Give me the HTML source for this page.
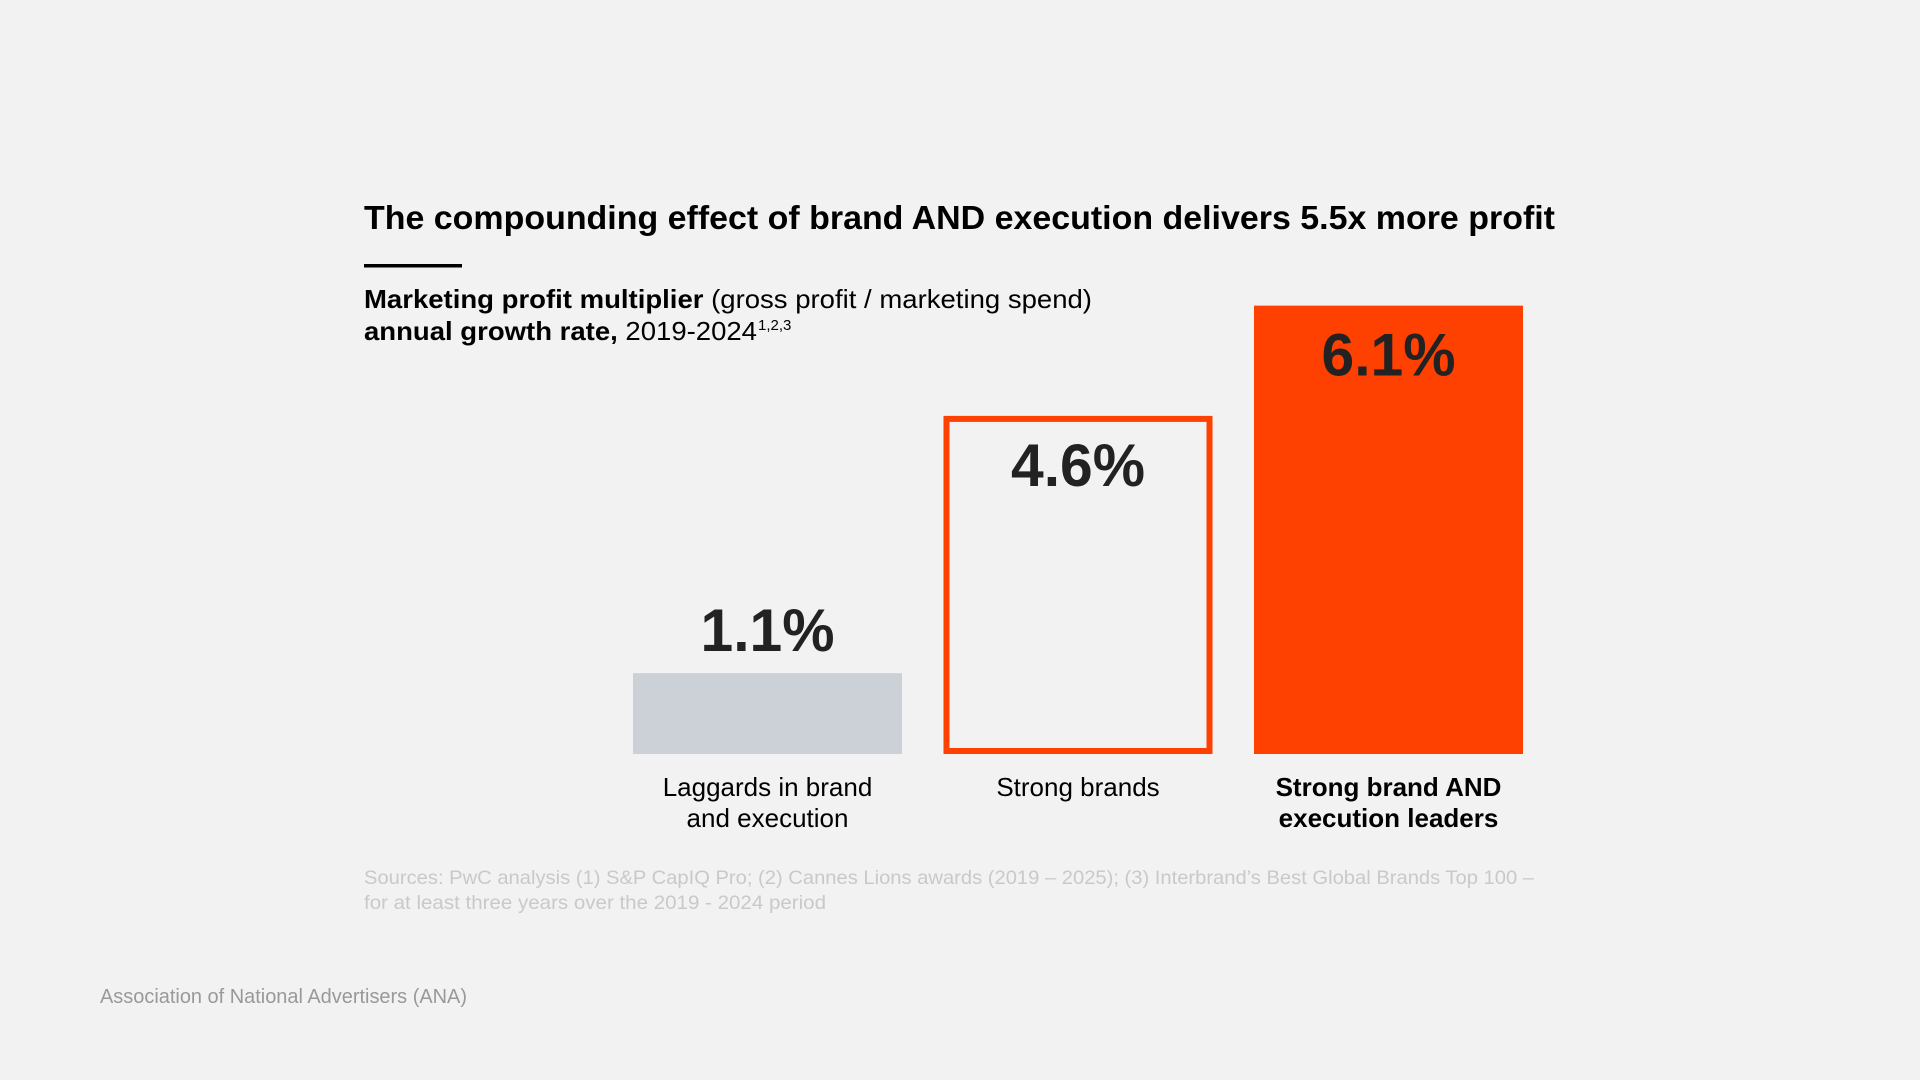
<!DOCTYPE html>
<html><head><meta charset="utf-8"><style>
html,body{margin:0;padding:0;background:#f2f2f2;}
svg{display:block;font-family:"Liberation Sans",Arial,sans-serif;}
</style></head><body>
<svg width="1920" height="1080" viewBox="0 0 1920 1080">
<rect x="0" y="0" width="1920" height="1080" fill="#f2f2f2"/>
<text x="364" y="229" font-size="33" font-weight="bold" fill="#000" textLength="1191" lengthAdjust="spacingAndGlyphs">The compounding effect of brand AND execution delivers 5.5x more profit</text>
<rect x="364" y="264" width="98" height="3.5" fill="#000"/>
<text x="364" y="308" font-size="26" fill="#000" textLength="728" lengthAdjust="spacingAndGlyphs"><tspan font-weight="bold">Marketing profit multiplier</tspan> (gross profit / marketing spend)</text>
<text x="364" y="340" font-size="26" fill="#000" textLength="393" lengthAdjust="spacingAndGlyphs"><tspan font-weight="bold">annual growth rate,</tspan> 2019-2024</text>
<text x="758" y="330" font-size="15" fill="#000">1,2,3</text>
<g id="bars"></g>
<text x="364" y="884" font-size="19.5" fill="#c9c9c9" textLength="1170" lengthAdjust="spacingAndGlyphs">Sources: PwC analysis (1) S&amp;P CapIQ Pro; (2) Cannes Lions awards (2019 – 2025); (3) Interbrand’s Best Global Brands Top 100 –</text>
<text x="364" y="909" font-size="19.5" fill="#c9c9c9" textLength="462" lengthAdjust="spacingAndGlyphs">for at least three years over the 2019 - 2024 period</text>
<text x="100" y="1003" font-size="20" fill="#999" textLength="367" lengthAdjust="spacingAndGlyphs">Association of National Advertisers (ANA)</text>
</svg>
<script>
const categories1 = ["Laggards in brand", "Strong brands", "Strong brand AND"];
const categories2 = ["and execution", "", "execution leaders"];
const values = [1.1, 4.6, 6.1];
const valueLabels = ["1.1%", "4.6%", "6.1%"];
const NS = "http://www.w3.org/2000/svg";
const g = document.getElementById("bars");
const baseY = 754, pxPer = 73.5, x0 = 633, step = 310.5, bw = 269;
function yScale(v){ return baseY - v * pxPer; }
function xScale(i){ return x0 + i * step; }
function mk(tag, attrs){ const e = document.createElementNS(NS, tag); for (const k in attrs) e.setAttribute(k, attrs[k]); g.appendChild(e); return e; }
values.forEach((v, i) => {
  const x = xScale(i), top = yScale(v), cx = x + bw / 2;
  let r;
  if (i === 0) r = mk("rect", {x: x, y: top, width: bw, height: baseY - top, fill: "#cbd1d6"});
  else if (i === 1) r = mk("rect", {x: x + 3, y: top + 3, width: bw - 6, height: baseY - top - 6, fill: "none", stroke: "#fe4000", "stroke-width": 6});
  else r = mk("rect", {x: x, y: top, width: bw, height: baseY - top, fill: "#fe4000"});
  
  
  const ly = i === 0 ? top - 22 : top + 70;
  const t = mk("text", {x: cx, y: ly, "text-anchor": "middle", "font-size": 60, "font-weight": "bold", fill: "#222", textLength: 134, lengthAdjust: "spacingAndGlyphs"});
  t.textContent = valueLabels[i];
  
  
  const c1 = mk("text", {x: cx, y: 796, "text-anchor": "middle", "font-size": 26, fill: "#000", "font-weight": i === 2 ? "bold" : "normal"});
  c1.textContent = categories1[i];
  
  
  if (categories2[i]) {
    const c2 = mk("text", {x: cx, y: 827, "text-anchor": "middle", "font-size": 26, fill: "#000", "font-weight": i === 2 ? "bold" : "normal"});
    c2.textContent = categories2[i];
    
    
  }
});
</script>
</body></html>
